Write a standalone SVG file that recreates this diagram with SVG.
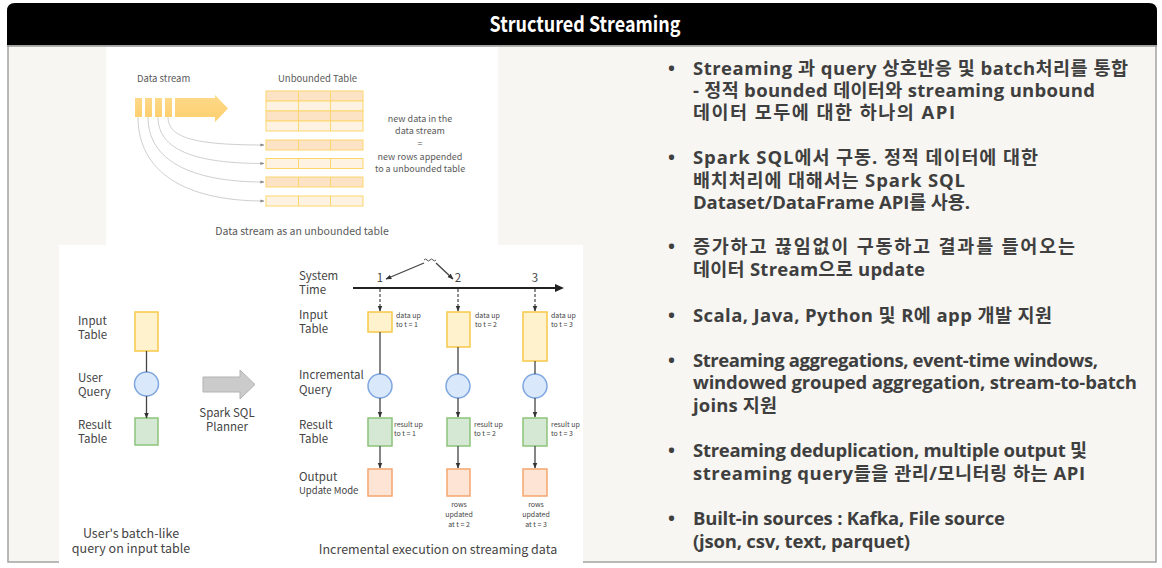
<svg xmlns="http://www.w3.org/2000/svg" width="1162" height="568" viewBox="0 0 1162 568">
<defs>
<style>
.ss{font-family:"Noto Sans CJK KR","Noto Sans",sans-serif}
.g1{fill:#5a5a5a}
.g2{fill:#444}
.bul{font-family:"Open Sans","Noto Sans CJK KR",sans-serif;font-weight:bold;font-size:18.5px;fill:#3f3f3f}
.yel{fill:#fff2cc;stroke:#f7c948;stroke-width:1.5}
.blu{fill:#dae8fc;stroke:#7ea6e0;stroke-width:1.5}
.grn{fill:#d5e8d4;stroke:#8cc37a;stroke-width:1.5}
.org{fill:#fde4d4;stroke:#f5a66e;stroke-width:1.5}
.ln{stroke:#444;stroke-width:1.3;fill:none}
.dash{stroke:#444;stroke-width:1.2;fill:none;stroke-dasharray:3 2}
.cv{stroke:#cfcfcf;stroke-width:1;fill:none}
.rd{fill:#fde3c6;stroke:#fcd66c;stroke-width:1}
.rl{fill:#fef3e3;stroke:#fcd66c;stroke-width:1}
.cl{stroke:#fcd66c;stroke-width:1}
</style>
<marker id="ah" viewBox="0 0 10 10" refX="9" refY="5" markerWidth="6" markerHeight="6" orient="auto" markerUnits="userSpaceOnUse"><path d="M0,1 L10,5 L0,9 z" fill="#333"/></marker>
<marker id="ahg" viewBox="0 0 10 10" refX="9" refY="5" markerWidth="4" markerHeight="4" orient="auto" markerUnits="userSpaceOnUse"><path d="M0,1 L10,5 L0,9 z" fill="#888"/></marker>
<linearGradient id="gold" x1="0" y1="0" x2="0" y2="1"><stop offset="0" stop-color="#fed98a"/><stop offset="1" stop-color="#fdcf6e"/></linearGradient>
</defs>
<rect x="0" y="0" width="1162" height="568" fill="#ffffff"/>
<g id="panel">
<rect x="8" y="45" width="1148" height="517" fill="#f7f6f2" stroke="#a3a3a3" stroke-width="1.5"/>
<path d="M7,45 L7,11 Q7,3 15,3 L1149,3 Q1157,3 1157,11 L1157,45 Z" fill="#000"/>
<line x1="7" y1="46" x2="1157" y2="46" stroke="#9a9a9a" stroke-width="1.5"/>
<text x="585" y="32" text-anchor="middle" class="ss" font-weight="bold" font-size="21" fill="#fff" textLength="191" lengthAdjust="spacingAndGlyphs">Structured Streaming</text>
</g>
<rect x="106" y="47" width="392" height="198" fill="#fff"/>
<rect x="59" y="245" width="524" height="318" fill="#fff"/>

<g id="data-stream">
<text x="137" y="82" class="ss g1" font-size="9.5">Data stream</text>
<rect x="135" y="98" width="7" height="19" fill="url(#gold)"/>
<rect x="145" y="98" width="7" height="19" fill="url(#gold)"/>
<rect x="155" y="98" width="7" height="19" fill="url(#gold)"/>
<rect x="165" y="98" width="7" height="19" fill="url(#gold)"/>
<path d="M175,98 L215,98 L215,95 L228,108.5 L215,122 L215,117 L175,117 Z" fill="url(#gold)"/>
</g>
<g id="unbounded-table">
<text x="278" y="82" class="ss g1" font-size="9.5">Unbounded Table</text>
<rect x="266" y="91" width="97" height="10" class="rd"/>
<rect x="266" y="101" width="97" height="10" class="rl"/>
<rect x="266" y="111" width="97" height="10" class="rd"/>
<rect x="266" y="121" width="97" height="10" class="rl"/>
<line x1="298.5" y1="91" x2="298.5" y2="131" class="cl"/>
<line x1="330.5" y1="91" x2="330.5" y2="131" class="cl"/>
</g>
<g id="appended-rows">
<rect x="266" y="140" width="97" height="10" class="rd"/>
<rect x="266" y="158.5" width="97" height="10" class="rl"/>
<rect x="266" y="177" width="97" height="10" class="rd"/>
<rect x="266" y="196" width="97" height="10" class="rl"/>
<path d="M298.5,140v10M330.5,140v10M298.5,158.5v10M330.5,158.5v10M298.5,177v10M330.5,177v10M298.5,196v10M330.5,196v10" class="cl"/>
</g>
<g id="stream-note">
<text class="ss g1" font-size="9" text-anchor="middle"><tspan x="420" y="122">new data in the</tspan><tspan x="420" y="134">data stream</tspan><tspan x="420" y="147">=</tspan><tspan x="420" y="160">new rows appended</tspan><tspan x="420" y="172">to a unbounded table</tspan></text>
<text x="302" y="235" class="ss g1" font-size="10.5" text-anchor="middle">Data stream as an unbounded table</text>
</g>

<g id="batch-query">
<text class="ss g2" font-size="11.5"><tspan x="78" y="325">Input</tspan><tspan x="78" y="339">Table</tspan><tspan x="78" y="382">User</tspan><tspan x="78" y="396">Query</tspan><tspan x="78" y="429">Result</tspan><tspan x="78" y="443">Table</tspan></text>
<rect x="135" y="312" width="23" height="39" class="yel"/>
<circle cx="146.5" cy="384" r="12" class="blu"/>
<rect x="135" y="418" width="23" height="27" class="grn"/>
<text class="ss g2" font-size="12.5" text-anchor="middle"><tspan x="131" y="538">User's batch-like</tspan><tspan x="131" y="553">query on input table</tspan></text>
</g>
<g id="planner">
<path d="M203,377 L240,377 L240,370 L255,384.5 L240,399 L240,392 L203,392 Z" fill="#cbcbcb" stroke="#b3b3b3" stroke-width="1"/>
<text class="ss g2" font-size="11.5" text-anchor="middle"><tspan x="227" y="417">Spark SQL</tspan><tspan x="227" y="431">Planner</tspan></text>
</g>

<g id="row-labels">
<text class="ss g2" font-size="11.5"><tspan x="299" y="280">System</tspan><tspan x="299" y="294">Time</tspan><tspan x="299" y="319">Input</tspan><tspan x="299" y="333">Table</tspan><tspan x="299" y="379">Incremental</tspan><tspan x="299" y="394">Query</tspan><tspan x="299" y="429">Result</tspan><tspan x="299" y="443">Table</tspan><tspan x="299" y="481">Output</tspan></text>
<text x="299" y="494" class="ss g2" font-size="9.5">Update Mode</text>
<text class="ss g2" font-size="11.5" text-anchor="middle"><tspan x="380" y="282">1</tspan><tspan x="458" y="282">2</tspan><tspan x="535" y="282">3</tspan></text>
<path d="M424,260 q1.5,-2 3,0 t3,0 t3,0 t3,0" stroke="#555" stroke-width="1" fill="none"/>
<text x="438" y="554" class="ss g2" font-size="12.5" text-anchor="middle">Incremental execution on streaming data</text>
</g>

<g id="t1">
<rect x="368" y="312" width="24" height="20" class="yel"/>
<circle cx="380" cy="386" r="12" class="blu"/>
<rect x="368" y="418" width="24" height="28" class="grn"/>
<rect x="368" y="469" width="24" height="27" class="org"/>
<text class="ss g2" font-size="7"><tspan x="396" y="318">data up</tspan><tspan x="396" y="327">to t = 1</tspan><tspan x="394" y="427">result up</tspan><tspan x="394" y="436">to t = 1</tspan></text>
</g>
<g id="t2">
<rect x="447" y="312" width="23" height="35" class="yel"/>
<circle cx="458" cy="386" r="12" class="blu"/>
<rect x="447" y="418" width="23" height="28" class="grn"/>
<rect x="447" y="469" width="23" height="27" class="org"/>
<text class="ss g2" font-size="7"><tspan x="475" y="318">data up</tspan><tspan x="475" y="327">to t = 2</tspan><tspan x="474" y="427">result up</tspan><tspan x="474" y="436">to t = 2</tspan></text>
<text class="ss g2" font-size="7" text-anchor="middle"><tspan x="459" y="507">rows</tspan><tspan x="459" y="517">updated</tspan><tspan x="459" y="527">at t = 2</tspan></text>
</g>
<g id="t3">
<rect x="523" y="312" width="24" height="49" class="yel"/>
<circle cx="535" cy="386" r="12" class="blu"/>
<rect x="523" y="418" width="24" height="28" class="grn"/>
<rect x="523" y="469" width="24" height="27" class="org"/>
<text class="ss g2" font-size="7"><tspan x="551" y="318">data up</tspan><tspan x="551" y="327">to t = 3</tspan><tspan x="551" y="427">result up</tspan><tspan x="551" y="436">to t = 3</tspan></text>
<text class="ss g2" font-size="7" text-anchor="middle"><tspan x="536" y="507">rows</tspan><tspan x="536" y="517">updated</tspan><tspan x="536" y="527">at t = 3</tspan></text>
</g>

<g id="connectors">
<path d="M168,117 C168,138 195,145 264,145" class="cv" marker-end="url(#ahg)"/>
<path d="M158,117 C158,150 195,163.5 264,163.5" class="cv" marker-end="url(#ahg)"/>
<path d="M148,117 C148,160 190,182 264,182" class="cv" marker-end="url(#ahg)"/>
<path d="M138,117 C138,172 185,201 264,201" class="cv" marker-end="url(#ahg)"/>
<line x1="146.5" y1="351" x2="146.5" y2="372" class="ln"/>
<line x1="146.5" y1="396" x2="146.5" y2="418" class="ln" marker-end="url(#ah)"/>
<line x1="353" y1="288" x2="556" y2="288" stroke="#222" stroke-width="2"/>
<path d="M555,284 L564,288 L555,292 Z" fill="#222"/>
<line x1="424" y1="263" x2="386" y2="279" class="ln" marker-end="url(#ah)"/>
<line x1="436" y1="263" x2="453" y2="279" class="ln" marker-end="url(#ah)"/>
<line x1="380" y1="289" x2="380" y2="311" class="dash" marker-end="url(#ah)"/>
<line x1="458" y1="289" x2="458" y2="311" class="dash" marker-end="url(#ah)"/>
<line x1="535" y1="289" x2="535" y2="311" class="dash" marker-end="url(#ah)"/>
<line x1="380" y1="332" x2="380" y2="374" class="ln"/>
<line x1="458" y1="347" x2="458" y2="374" class="ln"/>
<line x1="535" y1="361" x2="535" y2="374" class="ln"/>
<line x1="380" y1="398" x2="380" y2="417" class="ln" marker-end="url(#ah)"/>
<line x1="458" y1="398" x2="458" y2="417" class="ln" marker-end="url(#ah)"/>
<line x1="535" y1="398" x2="535" y2="417" class="ln" marker-end="url(#ah)"/>
<line x1="380" y1="446" x2="380" y2="468" class="ln" marker-end="url(#ah)"/>
<line x1="458" y1="446" x2="458" y2="468" class="ln" marker-end="url(#ah)"/>
<line x1="535" y1="446" x2="535" y2="468" class="ln" marker-end="url(#ah)"/>
</g>

<g id="bullets">
<text class="bul">
<tspan x="668" y="75">•</tspan><tspan x="693" y="75" textLength="435">Streaming 과 query 상호반응 및 batch처리를 통합</tspan>
<tspan x="693" y="97" textLength="402">- 정적 bounded 데이터와 streaming unbound</tspan>
<tspan x="693" y="119" textLength="262">데이터 모두에 대한 하나의 API</tspan>
<tspan x="668" y="164">•</tspan><tspan x="693" y="164" textLength="345">Spark SQL에서 구동. 정적 데이터에 대한</tspan>
<tspan x="693" y="187" textLength="272">배치처리에 대해서는 Spark SQL</tspan>
<tspan x="693" y="209" textLength="277">Dataset/DataFrame API를 사용.</tspan>
<tspan x="668" y="253">•</tspan><tspan x="693" y="253" textLength="382">증가하고 끊임없이 구동하고 결과를 들어오는</tspan>
<tspan x="693" y="276" textLength="232">데이터 Stream으로 update</tspan>
<tspan x="668" y="322">•</tspan><tspan x="693" y="322" textLength="359">Scala, Java, Python 및 R에 app 개발 지원</tspan>
<tspan x="668" y="367">•</tspan><tspan x="693" y="367" textLength="405">Streaming aggregations, event-time windows,</tspan>
<tspan x="693" y="389" textLength="444">windowed grouped aggregation, stream-to-batch</tspan>
<tspan x="693" y="412" textLength="84">joins 지원</tspan>
<tspan x="668" y="457">•</tspan><tspan x="693" y="457" textLength="394">Streaming deduplication, multiple output 및</tspan>
<tspan x="693" y="480" textLength="392">streaming query들을 관리/모니터링 하는 API</tspan>
<tspan x="668" y="525">•</tspan><tspan x="693" y="525" textLength="312">Built-in sources : Kafka, File source</tspan>
<tspan x="693" y="548" textLength="217">(json, csv, text, parquet)</tspan>
</text>
</g>
</svg>
